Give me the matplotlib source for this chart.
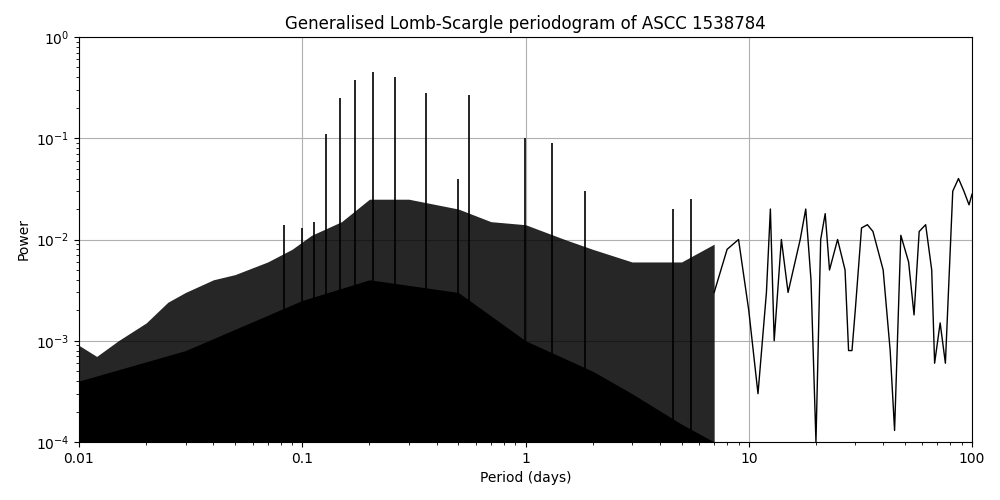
import matplotlib
matplotlib.use("Agg")
import matplotlib.pyplot as plt

# upper envelope of the dense noise band (period in days, power)
env_period = [0.01, 0.012, 0.015, 0.02, 0.025, 0.03, 0.04, 0.05, 0.07, 0.09, 0.11,
              0.15, 0.2, 0.3, 0.5, 0.7, 1.0, 1.5, 2.0, 3.0, 5.0, 7.0]
env_power = [9e-4, 7e-4, 1e-3, 1.5e-3, 2.4e-3, 3e-3, 4e-3, 4.5e-3, 6e-3, 8e-3, 1.1e-2,
             1.5e-2, 2.5e-2, 2.5e-2, 2e-2, 1.5e-2, 1.4e-2, 1e-2, 8e-3, 6e-3, 6e-3, 9e-3]

# level up to which the band is fully black
solid_period = [0.01, 0.03, 0.1, 0.2, 0.5, 1.0, 2.0, 3.0, 5.0, 7.0]
solid_power = [4e-4, 8e-4, 2.5e-3, 4e-3, 3e-3, 1e-3, 5e-4, 3e-4, 1.5e-4, 1e-4]

# strong peaks
peak_period = [0.083, 0.1, 0.113, 0.128, 0.148, 0.172, 0.207, 0.26, 0.36, 0.5, 0.56,
               0.99, 1.32, 1.85, 4.6, 5.5]
peak_power = [0.014, 0.013, 0.015, 0.11, 0.25, 0.38, 0.45, 0.40, 0.28, 0.04, 0.27,
              0.10, 0.09, 0.03, 0.02, 0.025]

# long-period tail, resolved curve
tail_period = [7, 8, 9, 10, 11, 12, 12.5, 13, 14, 15, 17, 18, 19, 20, 21, 22, 23, 25, 27,
               28, 29, 30, 32, 34, 36, 40, 43, 45, 48, 52, 55, 58, 62, 66, 68, 72, 76,
               82, 87, 92, 97, 100]
tail_power = [0.003, 0.008, 0.01, 0.002, 0.0003, 0.003, 0.02, 0.001, 0.01, 0.003, 0.01,
              0.02, 0.004, 1e-4, 0.01, 0.018, 0.005, 0.01, 0.005, 0.0008, 0.0008, 0.002,
              0.013, 0.014, 0.012, 0.005, 0.0008, 0.00013, 0.011, 0.006, 0.0018, 0.012,
              0.014, 0.005, 0.0006, 0.0015, 0.0006, 0.03, 0.04, 0.03, 0.022, 0.028]

fig = plt.figure(figsize=(10, 5), dpi=100)
ax = fig.add_axes([0.079, 0.116, 0.893, 0.81])
ax.set_axisbelow(True)
ax.fill_between(env_period, 1e-5, env_power, color="black", alpha=0.85, lw=0)
ax.fill_between(solid_period, 1e-5, solid_power, color="black", lw=0)
ax.vlines(peak_period, 1e-5, peak_power, color="black", lw=1.2)
ax.plot(tail_period, tail_power, color="black", lw=1)

ax.set_xscale("log")
ax.set_yscale("log")
ax.set_xlim(0.01, 100)
ax.set_ylim(1e-4, 1)
ax.set_xticks([0.01, 0.1, 1, 10, 100])
ax.set_xticklabels(["0.01", "0.1", "1", "10", "100"])
ax.grid(True, which="major")
ax.set_xlabel("Period (days)")
ax.set_ylabel("Power")
ax.set_title("Generalised Lomb-Scargle periodogram of ASCC 1538784")
fig.savefig("out.png")
